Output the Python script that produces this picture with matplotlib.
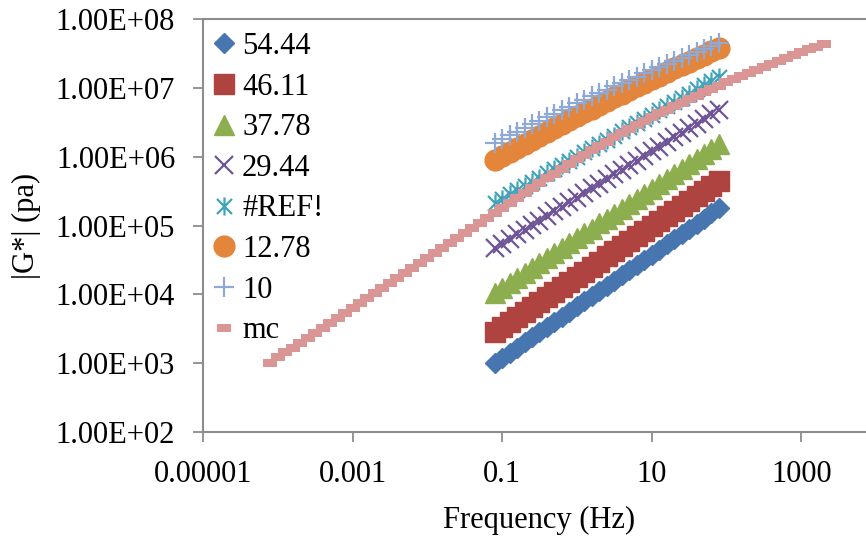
import matplotlib
matplotlib.use("Agg")
import matplotlib.pyplot as plt
from matplotlib.path import Path
from matplotlib.ticker import FixedLocator, FixedFormatter, NullLocator

plt.rcParams['font.family'] = ['Liberation Serif', 'DejaVu Serif']

# frequency sweep used at each test temperature (Hz)
freq = [0.0794, 0.1, 0.126, 0.158, 0.2, 0.251, 0.316, 0.398, 0.501, 0.631,
        0.794, 1.0, 1.26, 1.58, 2.0, 2.51, 3.16, 3.98, 5.01, 6.31,
        7.94, 10.0, 12.6, 15.8, 20.0, 25.1, 31.6, 39.8, 50.1, 63.1, 79.4]

# |G*| (Pa) per temperature
g_5444 = [1.00e3, 1.19e3, 1.41e3, 1.68e3, 2.00e3, 2.37e3, 2.82e3, 3.35e3, 3.98e3, 4.73e3,
          5.62e3, 6.68e3, 7.94e3, 9.44e3, 1.12e4, 1.33e4, 1.58e4, 1.88e4, 2.24e4, 2.66e4,
          3.16e4, 3.76e4, 4.47e4, 5.31e4, 6.31e4, 7.50e4, 8.91e4, 1.06e5, 1.26e5, 1.50e5, 1.78e5]
g_4611 = [2.82e3, 3.33e3, 3.95e3, 4.68e3, 5.53e3, 6.56e3, 7.76e3, 9.19e3, 1.09e4, 1.29e4,
          1.52e4, 1.80e4, 2.14e4, 2.53e4, 2.99e4, 3.55e4, 4.20e4, 4.97e4, 5.87e4, 6.97e4,
          8.24e4, 9.75e4, 1.16e5, 1.37e5, 1.62e5, 1.92e5, 2.27e5, 2.69e5, 3.18e5, 3.77e5, 4.47e5]
g_3778 = [1.05e4, 1.24e4, 1.46e4, 1.72e4, 2.03e4, 2.40e4, 2.83e4, 3.34e4, 3.94e4, 4.66e4,
          5.50e4, 6.49e4, 7.66e4, 9.04e4, 1.07e5, 1.26e5, 1.49e5, 1.75e5, 2.07e5, 2.44e5,
          2.88e5, 3.40e5, 4.02e5, 4.74e5, 5.60e5, 6.61e5, 7.80e5, 9.20e5, 1.09e6, 1.28e6, 1.51e6]
g_2944 = [4.68e4, 5.46e4, 6.37e4, 7.43e4, 8.67e4, 1.01e5, 1.18e5, 1.38e5, 1.61e5, 1.87e5,
          2.19e5, 2.55e5, 2.98e5, 3.48e5, 4.06e5, 4.73e5, 5.52e5, 6.44e5, 7.52e5, 8.77e5,
          1.02e6, 1.19e6, 1.39e6, 1.63e6, 1.90e6, 2.21e6, 2.58e6, 3.01e6, 3.52e6, 4.10e6, 4.79e6]
g_ref = [2.14e5, 2.46e5, 2.83e5, 3.26e5, 3.75e5, 4.32e5, 4.97e5, 5.71e5, 6.58e5, 7.57e5,
         8.71e5, 1.00e6, 1.15e6, 1.33e6, 1.53e6, 1.76e6, 2.02e6, 2.33e6, 2.68e6, 3.08e6,
         3.55e6, 4.08e6, 4.70e6, 5.41e6, 6.22e6, 7.16e6, 8.24e6, 9.48e6, 1.09e7, 1.26e7, 1.45e7]
g_1278 = [8.91e5, 1.02e6, 1.17e6, 1.34e6, 1.54e6, 1.76e6, 2.01e6, 2.30e6, 2.62e6, 2.99e6,
          3.40e6, 3.86e6, 4.40e6, 4.99e6, 5.66e6, 6.41e6, 7.28e6, 8.22e6, 9.31e6, 1.05e7,
          1.19e7, 1.34e7, 1.51e7, 1.70e7, 1.91e7, 2.15e7, 2.41e7, 2.70e7, 3.03e7, 3.40e7, 3.80e7]
g_10 = [1.58e6, 1.80e6, 2.04e6, 2.31e6, 2.61e6, 2.94e6, 3.33e6, 3.75e6, 4.23e6, 4.75e6,
        5.35e6, 6.00e6, 6.73e6, 7.54e6, 8.43e6, 9.44e6, 1.05e7, 1.18e7, 1.31e7, 1.46e7,
        1.63e7, 1.81e7, 2.01e7, 2.23e7, 2.47e7, 2.73e7, 3.02e7, 3.33e7, 3.68e7, 4.06e7, 4.47e7]

# master curve
mc_freq = [7.94e-5, 1.00e-4, 1.26e-4, 1.58e-4, 2.00e-4, 2.51e-4, 3.16e-4, 3.98e-4, 5.01e-4, 6.31e-4,
           7.94e-4, 1.00e-3, 1.26e-3, 1.58e-3, 2.00e-3, 2.51e-3, 3.16e-3, 3.98e-3, 5.01e-3, 6.31e-3,
           7.94e-3, 1.00e-2, 1.26e-2, 1.58e-2, 2.00e-2, 2.51e-2, 3.16e-2, 3.98e-2, 5.01e-2, 6.31e-2,
           7.94e-2, 0.100, 0.126, 0.158, 0.200, 0.251, 0.316, 0.398, 0.501, 0.631,
           0.794, 1.00, 1.26, 1.58, 2.00, 2.51, 3.16, 3.98, 5.01, 6.31,
           7.94, 10.0, 12.6, 15.8, 20.0, 25.1, 31.6, 39.8, 50.1, 63.1,
           79.4, 100.0, 126.0, 158.0, 200.0, 251.0, 316.0, 398.0, 501.0, 631.0,
           794.0, 1000.0, 1260.0, 1580.0, 2000.0]
mc_g = [1.02e3, 1.21e3, 1.43e3, 1.68e3, 1.99e3, 2.34e3, 2.76e3, 3.26e3, 3.85e3, 4.54e3,
        5.36e3, 6.31e3, 7.46e3, 8.83e3, 1.04e4, 1.24e4, 1.46e4, 1.73e4, 2.05e4, 2.42e4,
        2.86e4, 3.39e4, 4.01e4, 4.74e4, 5.61e4, 6.64e4, 7.85e4, 9.29e4, 1.10e5, 1.30e5,
        1.54e5, 1.82e5, 2.15e5, 2.54e5, 2.99e5, 3.52e5, 4.13e5, 4.85e5, 5.69e5, 6.67e5,
        7.80e5, 9.12e5, 1.06e6, 1.23e6, 1.43e6, 1.65e6, 1.91e6, 2.19e6, 2.52e6, 2.88e6,
        3.28e6, 3.73e6, 4.24e6, 4.80e6, 5.42e6, 6.11e6, 6.87e6, 7.71e6, 8.63e6, 9.66e6,
        1.08e7, 1.20e7, 1.34e7, 1.49e7, 1.66e7, 1.84e7, 2.03e7, 2.25e7, 2.48e7, 2.74e7,
        3.01e7, 3.31e7, 3.63e7, 3.97e7, 4.34e7]

labels = ['54.44', '46.11', '37.78', '29.44', '#REF!', '12.78', '10', 'mc']
x_ticks = [1e-5, 1e-3, 1e-1, 1e1, 1e3]
x_ticklabels = ['0.00001', '0.001', '0.1', '10', '1000']
y_ticks = [1e2, 1e3, 1e4, 1e5, 1e6, 1e7, 1e8]
y_ticklabels = ['1.00E+02', '1.00E+03', '1.00E+04', '1.00E+05', '1.00E+06', '1.00E+07', '1.00E+08']

# excel-like marker shapes
star = Path([(-1, -1), (1, 1), (-1, 1), (1, -1), (0, -1.2), (0, 1.2)],
            [Path.MOVETO, Path.LINETO, Path.MOVETO, Path.LINETO, Path.MOVETO, Path.LINETO])
dash = Path([(-1, -0.6), (1, -0.6), (1, 0.6), (-1, 0.6), (-1, -0.6)],
            [Path.MOVETO, Path.LINETO, Path.LINETO, Path.LINETO, Path.CLOSEPOLY])

fig = plt.figure(figsize=(8.66, 5.37), dpi=100)
ax = fig.add_axes([203 / 866, 1 - 432 / 537, 673 / 866, 413 / 537])

ax.plot(freq, g_5444, ls='none', marker='D', ms=10.5, color='#4675AF', mec='#4675AF', label=labels[0])
ax.plot(freq, g_4611, ls='none', marker='s', ms=14, color='#AE4340', mec='#AE4340', label=labels[1])
ax.plot(freq, g_3778, ls='none', marker='^', ms=14, color='#8CAE4E', mec='#8CAE4E', label=labels[2])
ax.plot(freq, g_2944, ls='none', marker='x', ms=13, mew=1.6, color='#6F5596', label=labels[3])
ax.plot(freq, g_ref, ls='none', marker=star, ms=13, mew=1.6, mfc='none', color='#3FA3BC', label=labels[4])
ax.plot(freq, g_1278, ls='none', marker='o', ms=15, color='#E3853A', mec='#E3853A', label=labels[5])
ax.plot(freq, g_10, ls='none', marker='+', ms=14, mew=1.6, color='#8EA9D6', label=labels[6])
ax.plot(mc_freq, mc_g, ls='none', marker=dash, ms=10, mew=0, color='#D99694', label=labels[7])

ax.set_xscale('log')
ax.set_yscale('log')
ax.set_xlim(1e-5, 1e4)
ax.set_ylim(1e2, 1e8)

ax.xaxis.set_major_locator(FixedLocator(x_ticks))
ax.xaxis.set_major_formatter(FixedFormatter(x_ticklabels))
ax.yaxis.set_major_locator(FixedLocator(y_ticks))
ax.yaxis.set_major_formatter(FixedFormatter(y_ticklabels))
ax.xaxis.set_minor_locator(NullLocator())
ax.yaxis.set_minor_locator(NullLocator())

# plot area border on top, axes on left/bottom, no gridlines
ax.spines['right'].set_visible(False)
for s in ['left', 'bottom', 'top']:
    ax.spines[s].set_color('#8C8C8C')
    ax.spines[s].set_linewidth(1.5)
ax.tick_params(axis='both', direction='out', length=7, width=1.3, color='#8C8C8C',
               labelsize=22, pad=13)

ax.set_xlabel('Frequency (Hz)', fontsize=22, labelpad=12)
ax.set_ylabel('|G*| (pa)', fontsize=22, labelpad=11)

ax.legend(loc='upper left', bbox_to_anchor=(213 / 866, 1 - 32 / 537), bbox_transform=fig.transFigure,
          frameon=False, fontsize=22, numpoints=1, handlelength=0.7, handletextpad=0.25,
          labelspacing=0.38, borderaxespad=0, borderpad=0)

fig.savefig('out.png', dpi=100)
